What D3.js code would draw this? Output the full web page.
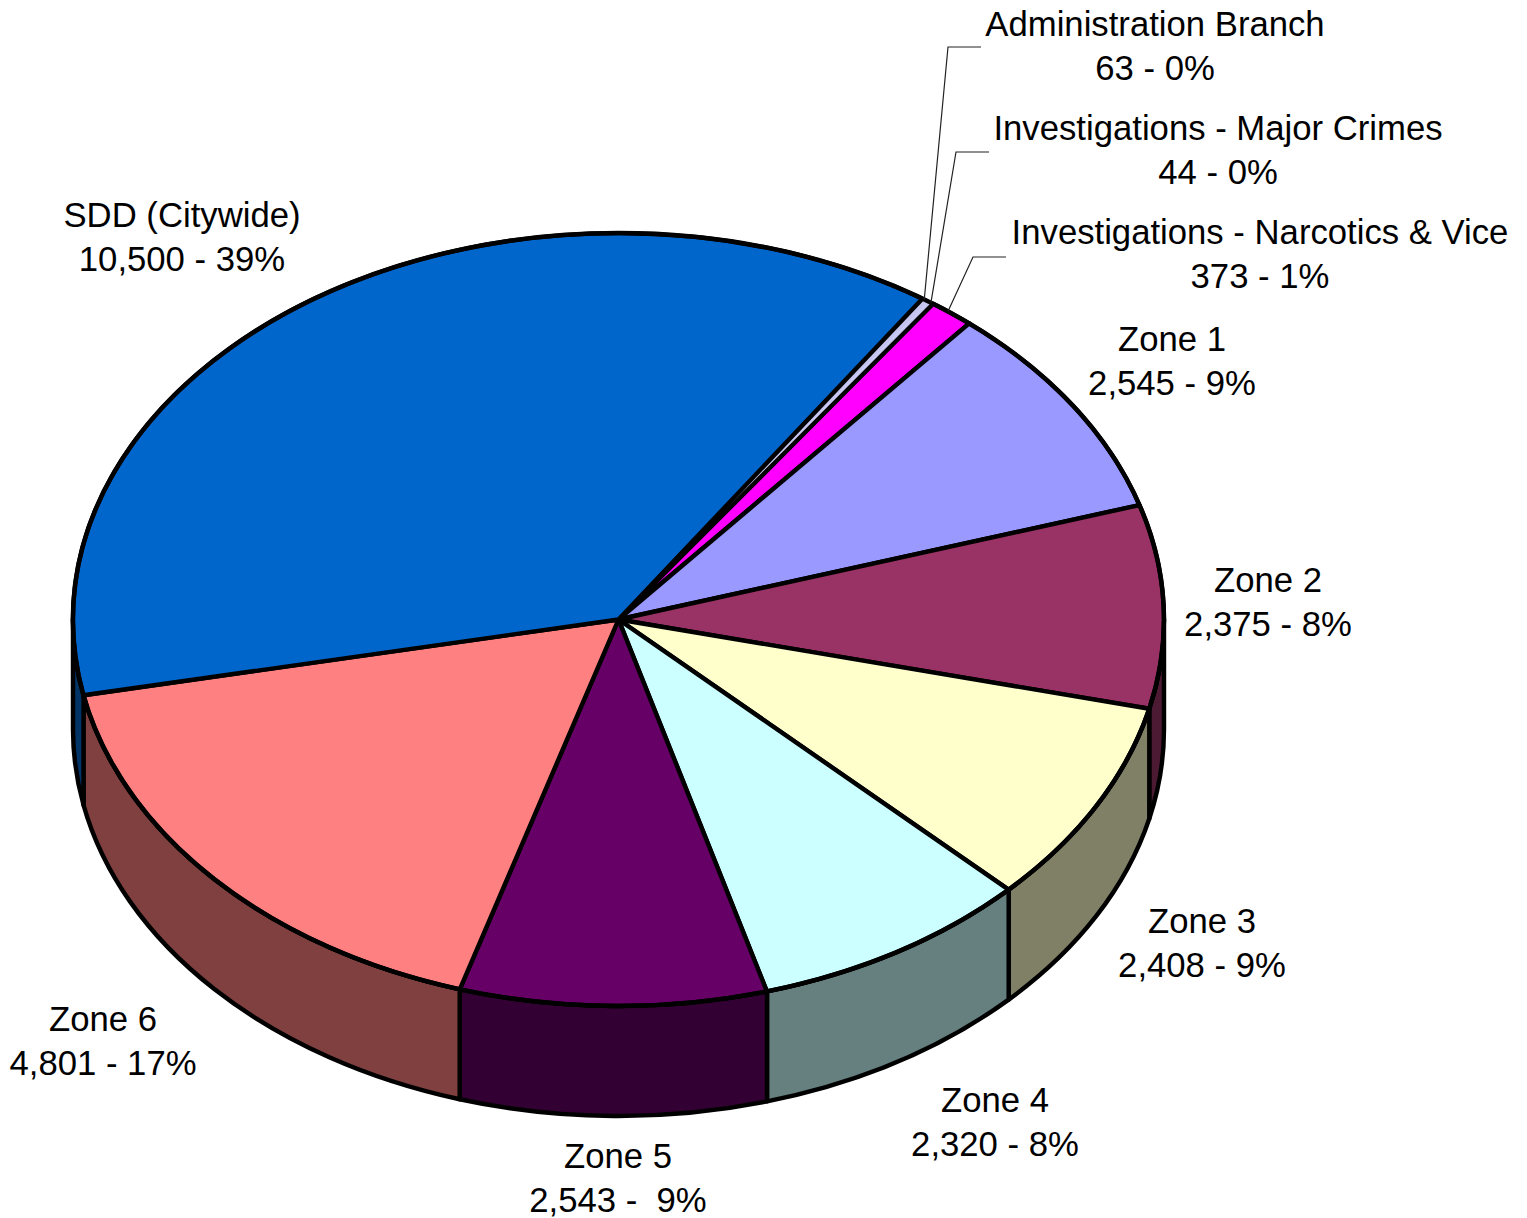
<!DOCTYPE html>
<html><head><meta charset="utf-8">
<script src="https://cdnjs.cloudflare.com/ajax/libs/d3/7.8.5/d3.min.js"></script>
<style>html,body{margin:0;background:#fff}svg{display:block}
text{font-family:"Liberation Sans",Arial,sans-serif;font-size:34.7px;fill:#000;text-anchor:middle;white-space:pre}</style>
</head><body><script>
const categories=["Administration Branch","Investigations - Major Crimes","Investigations - Narcotics & Vice","Zone 1","Zone 2","Zone 3","Zone 4","Zone 5","Zone 6","SDD (Citywide)"];
const values=[63,44,373,2545,2375,2408,2320,2543,4801,10500];
const valueLabels=["63 - 0%","44 - 0%","373 - 1%","2,545 - 9%","2,375 - 8%","2,408 - 9%","2,320 - 8%","2,543 -  9%","4,801 - 17%","10,500 - 39%"];
const colors=["#c4c4f0","#c4c4f0","#ff00ff","#9999ff","#993366","#ffffcc","#ccffff","#660066","#ff8080","#0066cc"];
const wallColors=["#666680","#666680","#800080","#4d4d80","#4d1a33","#808066","#668080","#330033","#804040","#003366"];
const labelX=[1155,1218,1260,1172,1268,1202,995,618,103,182];
const labelY=[36,140,244,351,592,933,1112,1168,1031,227];
const leaders=[[948,47,981],[956,152,989],[973,257,1006]];
const leaderAnchor=[0.3,0.5,0.4];

const W=1527,H=1218,cx=618.5,cy=619.5,rx=545.5,ry=386.5,depth=110,sw=4.4;
const svg=d3.select("body").append("svg").attr("width",W).attr("height",H);
const start=33.85*Math.PI/180;
const pie=d3.pie().sort(null).startAngle(start).endAngle(start+2*Math.PI);
const arcs=pie(values);
const px=a=>cx+rx*Math.sin(a), py=a=>cy-ry*Math.cos(a);
const R=Math.PI/2, L=3*Math.PI/2, T=2*Math.PI;

// walls: part of each slice on the front half of the rim
const walls=[];
arcs.forEach((d,i)=>{
  [0,T].forEach(off=>{
    const a=Math.max(d.startAngle-off,R), b=Math.min(d.endAngle-off,L);
    if(b>a) walls.push({i,a,b});
  });
});
const wallPath=w=>{
  const large=(w.b-w.a)>Math.PI?1:0;
  return `M${px(w.a)},${py(w.a)}A${rx},${ry} 0 ${large} 1 ${px(w.b)},${py(w.b)}`+
    `L${px(w.b)},${py(w.b)+depth}A${rx},${ry} 0 ${large} 0 ${px(w.a)},${py(w.a)+depth}Z`;
};
svg.append("g").selectAll("path").data(walls).join("path")
  .attr("d",wallPath).attr("fill",d=>wallColors[d.i])
  .attr("stroke","#000").attr("stroke-width",sw).attr("stroke-linejoin","round");

// top face: unit-radius d3.arc, flattened by a transform
const arc=d3.arc().innerRadius(0).outerRadius(1);
const face=svg.append("g").attr("transform",`translate(${cx},${cy}) scale(${rx},${ry})`);
face.selectAll("path.slice").data(arcs).join("path").attr("class","slice")
  .attr("d",arc).attr("fill",(d,i)=>colors[i])
  .attr("stroke",(d,i)=>i<2?"none":"#000").attr("stroke-width",sw).attr("stroke-linejoin","round")
  .attr("vector-effect","non-scaling-stroke");
// rim of the top face
face.append("path")
  .attr("d",d3.arc().innerRadius(1).outerRadius(1).startAngle(0).endAngle(T)())
  .attr("fill","none").attr("stroke","#000").attr("stroke-width",sw)
  .attr("vector-effect","non-scaling-stroke");

// leader lines
svg.append("g").selectAll("path").data(leaders).join("path")
  .attr("d",(d,i)=>{const m=arcs[i].startAngle+(arcs[i].endAngle-arcs[i].startAngle)*leaderAnchor[i];
    return `M${px(m)},${py(m)}L${d[0]},${d[1]}L${d[2]},${d[1]}`;})
  .attr("fill","none").attr("stroke","#222").attr("stroke-width",1.2);

// labels
const g=svg.append("g").selectAll("text").data(categories).join("text")
  .attr("x",(d,i)=>labelX[i]).attr("y",(d,i)=>labelY[i]);
g.append("tspan").text(d=>d);
g.append("tspan").attr("x",(d,i)=>labelX[i]).attr("dy",44).text((d,i)=>valueLabels[i]);
</script></body></html>
